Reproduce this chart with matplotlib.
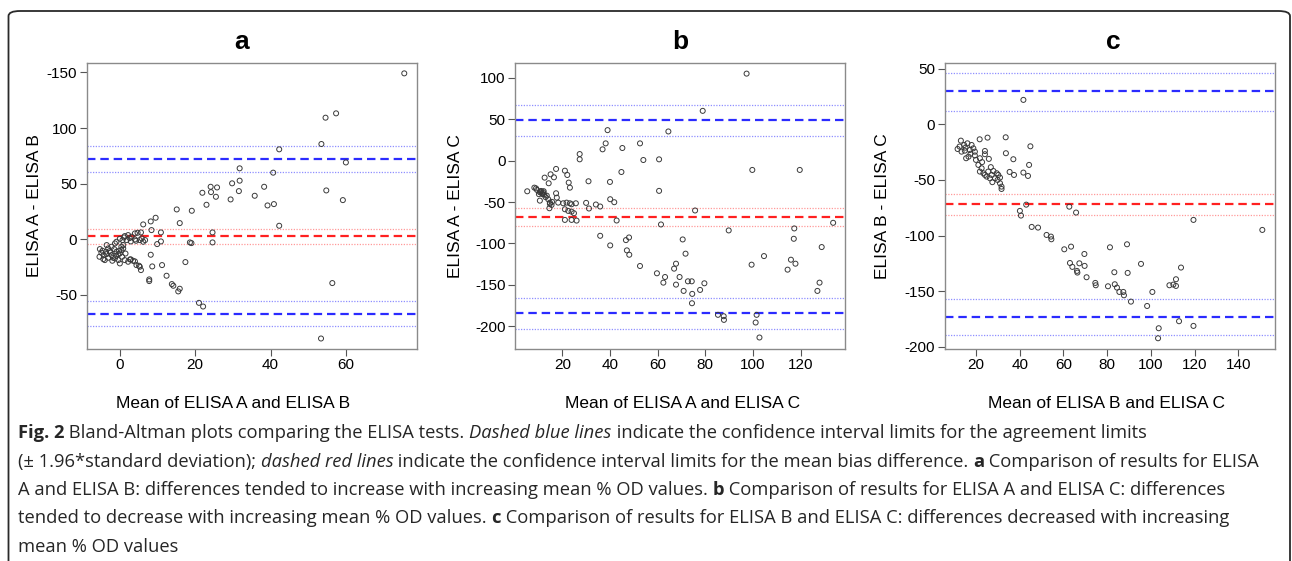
import matplotlib
matplotlib.use('Agg')
import matplotlib.pyplot as plt
from matplotlib.patches import FancyBboxPatch

# panel a: mean of A and B vs A - B
a_x = [75.5, 54.6, 57.4, 53.5, 42.3, 60.0, 31.8, 40.7, 29.8, 31.8, 24.1, 25.8, 21.9, 24.2, 25.5,
       31.6, 38.3, 35.8, 29.4, 39.2, 40.9, 54.8, 59.2, 23.0, 15.1, 19.1, 15.9, 42.3, 24.6, 24.6,
       18.6, 19.0, 17.4, 56.4, 14.2, 13.8, 15.9, 15.5, 12.4, 11.2, 8.6, 8.2, 7.8, 7.8, 21.0,
       22.1, 53.4, 10.9, 10.9, 9.9, 8.4, 8.2, 9.5, 6.2, 5.6, 4.0, 4.7, 5.3, 6.7, 4.3,
       2.9, 1.8, 1.1, 0.7, 1.3, 0.0, 2.9, 4.0, 5.1, 5.6,
       -5.3, -5.4, -4.9, -4.3, -3.7, -3.1, -2.7, -2.2, -3.1, -4.0, -4.4, -1.8, -1.3, -0.9, -0.4,
       0.0, 0.4, 0.9, 0.6, -0.4, 0.0, 1.3, 2.2, 2.7, 3.5, 4.4, 5.3, 0.9, 0.4, -0.9,
       -1.3, -2.2, -3.5, -2.5, -1.5, -3.5, -1.0, -0.2, 1.5, -4.6, -2.0,
       2.2, 3.1, 4.0, 5.8, 6.2, 2.6]
a_y = [149.2, 109.3, 113.2, 85.6, 80.8, 69.0, 63.7, 59.8, 50.2, 52.6, 47.1, 46.5, 41.7, 42.3, 38.1,
       43.2, 47.1, 39.0, 35.7, 30.3, 31.5, 43.8, 35.1, 30.9, 26.7, 25.5, 14.4, 12.0, 6.0, -3.0,
       -3.0, -3.6, -20.7, -39.6, -42.0, -40.5, -44.7, -47.1, -33.0, -23.4, -24.6, -14.1, -36.3, -37.8, -57.4,
       -60.7, -89.5, 6.0, -2.1, -4.5, 8.1, 15.9, 19.2, 13.2, 6.0, 5.1, 5.7, -0.9, -0.9, -1.5,
       -2.1, -0.9, 1.5, -0.9, 2.7, 0.3, -18.3, -20.1, -24.0, -27.9,
       -9.0, -15.9, -12.3, -14.4, -11.4, -8.4, -10.8, -14.4, -16.8, -18.9, -18.0, -16.8, -17.4, -11.4, -13.5,
       -12.9, -9.9, -8.4, -15.9, -18.9, -21.9, -18.9, -20.4, -18.3, -19.5, -23.4, -24.9, -5.4, -6.9, -2.4,
       -3.9, -6.9, -5.4, -12.0, -9.0, -13.5, -15.0, -10.5, -13.0, -10.5, -19.5,
       3.6, 2.1, -0.3, 0.6, -2.4, 0.9]
a_lines = {'agree': [72.0, -67.0], 'agree_ci': [83.8, 60.6, -55.6, -78.0],
           'bias': 3.0, 'bias_ci': [9.3, -4.2]}

# panel b: mean of A and C vs A - C
b_x = [97.3, 78.9, 64.5, 39.0, 38.2, 36.9, 45.2, 52.6, 54.0, 60.6, 27.3, 27.3, 44.8, 40.0, 31.0,
       99.7, 119.6, 60.6, 40.1, 41.8, 42.8, 30.0, 31.2, 34.1, 35.9, 75.7, 61.4, 89.8, 133.6, 117.3,
       117.1, 128.8, 35.9, 40.1, 46.7, 48.0, 47.1, 48.1, 70.5, 71.7, 104.6, 99.4, 52.6, 67.7, 66.9,
       69.2, 63.1, 59.7, 62.4, 67.7, 70.9, 72.7, 74.3, 74.5, 74.4, 77.8, 79.6, 114.5, 115.9, 117.8,
       127.9, 127.0, 85.3, 87.7, 87.8, 101.5, 101.1, 102.7,
       17.4, 15.1, 12.6, 16.5, 14.3, 21.1, 22.1, 22.7, 23.2, 5.3, 8.3, 9.4, 10.6, 11.4, 12.0,
       10.2, 11.1, 12.4, 10.6, 13.5, 14.1, 14.8, 14.6, 17.4, 17.7, 18.3, 20.4, 21.8, 23.2, 23.9,
       25.7, 21.1, 22.5, 23.9, 24.9, 21.1, 23.9, 26.0, 14.8, 15.7,
       11.8, 10.9, 12.2, 13.0, 9.0, 15.5]
b_y = [105.2, 60.2, 35.3, 36.9, 20.9, 13.7, 15.3, 20.9, 0.8, 1.6, 8.0, 1.6, -13.7, -25.7, -24.9,
       -11.2, -11.2, -36.5, -46.6, -50.2, -72.3, -51.0, -57.8, -53.0, -55.4, -60.2, -77.1, -84.3, -75.1, -81.9,
       -94.4, -104.4, -90.8, -102.4, -96.0, -92.8, -108.4, -113.7, -95.2, -112.4, -115.3, -125.7, -127.3, -124.5, -130.5,
       -140.6, -140.6, -136.1, -147.4, -149.8, -157.4, -145.8, -145.8, -161.0, -172.3, -156.2, -148.2, -131.7, -119.7, -124.5,
       -147.4, -157.4, -186.3, -188.0, -192.4, -186.3, -195.6, -213.7,
       -10.0, -16.5, -20.5, -20.1, -27.3, -12.1, -17.3, -26.5, -32.6, -37.0, -32.6, -35.4, -38.2, -39.4, -38.2,
       -40.5, -36.6, -41.0, -48.3, -42.3, -46.6, -50.7, -57.5, -39.4, -44.7, -50.7, -51.5, -50.7, -51.5, -52.7,
       -51.5, -58.7, -60.7, -61.6, -63.5, -71.6, -71.6, -72.4, -52.2, -49.8,
       -40.5, -37.5, -36.9, -44.0, -33.5, -53.5]
b_lines = {'agree': [49.0, -184.3], 'agree_ci': [67.3, 29.8, -165.8, -203.6],
           'bias': -67.6, 'bias_ci': [-56.8, -78.9]}

# panel c: mean of B and C vs B - C
c_x = [41.7, 33.6, 25.3, 21.7, 44.9, 33.7, 37.1, 35.4, 37.4, 41.7, 43.8, 44.3, 43.0, 40.1, 40.6,
       62.7, 65.8, 119.5, 151.0, 45.5, 48.4, 52.3, 54.3, 54.5, 60.4, 63.5, 81.3, 89.1, 69.6, 63.0,
       64.1, 66.2, 66.4, 67.3, 69.7, 70.6, 95.5, 83.3, 89.4, 113.8, 74.6, 74.8, 80.4, 83.5, 84.5,
       85.6, 87.4, 87.7, 90.9, 98.3, 100.7, 108.5, 110.3, 111.5, 111.5, 112.9, 119.5, 103.6, 103.3,
       13.1, 11.6, 14.6, 16.1, 18.0, 13.4, 14.9, 17.2, 18.8, 19.5, 16.6, 15.5, 24.1, 24.1, 21.8,
       25.9, 21.1, 22.6, 21.8, 23.4, 24.1, 24.9, 25.6, 26.4, 27.2, 28.7, 29.9, 30.2, 31.0, 31.7,
       31.7, 31.0, 17.5, 19.5, 20.0, 22.8, 26.8, 28.0, 29.5, 27.5, 12.5, 15.2]
c_y = [21.9, -11.7, -12.0, -13.5, -19.8, -26.0, -31.4, -42.8, -45.5, -43.4, -46.4, -36.5, -72.2, -77.8, -82.0,
       -74.0, -79.3, -85.9, -94.9, -92.2, -92.8, -99.4, -100.9, -103.3, -112.3, -109.9, -110.5, -107.8, -116.5, -124.6,
       -128.1, -131.7, -133.2, -124.9, -127.2, -137.4, -125.4, -132.9, -133.5, -128.7, -142.5, -144.6, -145.5, -143.7, -146.7,
       -150.6, -150.6, -153.6, -159.3, -163.2, -150.6, -144.6, -144.0, -139.2, -145.2, -176.9, -181.1, -183.2, -192.2,
       -14.7, -22.2, -18.6, -17.1, -18.6, -24.6, -23.7, -23.1, -21.6, -24.6, -29.1, -30.5, -24.0, -26.9, -30.5,
       -31.1, -36.5, -39.5, -42.5, -44.0, -45.5, -47.0, -42.5, -48.5, -45.5, -48.5, -50.0, -45.5, -53.0, -56.0,
       -58.1, -47.9, -26.5, -28.0, -32.0, -34.0, -38.5, -42.0, -44.0, -52.0, -20.0, -21.0]
c_lines = {'agree': [30.2, -172.7], 'agree_ci': [45.8, 11.9, -156.8, -189.4],
           'bias': -71.8, 'bias_ci': [-62.6, -81.4]}

panels = [
    ('a', a_x, a_y, a_lines, 'Mean of ELISA A and ELISA B', 'ELISA A - ELISA B',
     (-8.8, 78.8), (-98.5, 158.8), [0, 20, 40, 60], [150, 100, 50, 0, -50],
     ['-150', '100', '50', '0', '-50'], [86.7, 416.7], 35, 241.7, 233.5),
    ('b', b_x, b_y, b_lines, 'Mean of ELISA A and ELISA C', 'ELISA A - ELISA C',
     (0.3, 138.7), (-227, 118.4), [20, 40, 60, 80, 100, 120], [100, 50, 0, -50, -100, -150, -200],
     ['100', '50', '0', '-50', '-100', '-150', '-200'], [515.3, 845.3], 455, 680, 683),
    ('c', c_x, c_y, c_lines, 'Mean of ELISA B and ELISA C', 'ELISA B - ELISA C',
     (5.7, 156.8), (-201.4, 55.3), [20, 40, 60, 80, 100, 120, 140], [50, 0, -50, -100, -150, -200],
     ['50', '0', '-50', '-100', '-150', '-200'], [944.7, 1275.0], 882.7, 1113, 1106),
]

W, H = 1292, 561
fig = plt.figure(figsize=(W / 100, H / 100), dpi=100)
plt.rcParams['font.family'] = ['Liberation Sans', 'DejaVu Sans']

blue, blue_l = '#2b2bff', '#8f8fff'
red, red_l = '#ff2020', '#ff9a9a'
top_px, bot_px = 62.7, 348.5

for (name, xs, ys, lines, xlab, ylab, xlim, ylim, xt, yt, ytl, (l_px, r_px),
     ylab_px, title_px, xlab_px) in panels:
    ax = fig.add_axes([l_px / W, 1 - bot_px / H, (r_px - l_px) / W, (bot_px - top_px) / H])
    for v in lines['agree_ci']:
        ax.axhline(v, color=blue_l, lw=0.9, ls=(0, (1, 1.2)))
    for v in lines['bias_ci']:
        ax.axhline(v, color=red_l, lw=0.9, ls=(0, (1, 1.2)))
    for v in lines['agree']:
        ax.axhline(v, color=blue, lw=1.6, ls=(0, (3.8, 2.2)))
    ax.axhline(lines['bias'], color=red, lw=1.6, ls=(0, (3.8, 2.2)))
    ax.scatter(xs, ys, s=13, facecolors='none', edgecolors='#3a3a3a', linewidths=0.7, zorder=3)
    ax.set_xlim(*xlim)
    ax.set_ylim(*ylim)
    ax.set_xticks(xt)
    ax.set_yticks(yt)
    ax.set_yticklabels(ytl)
    ax.tick_params(length=5, width=0.8, color='#555555', labelsize=11, pad=2)
    for s in ax.spines.values():
        s.set_color('#8a8a8a')
        s.set_linewidth(1.0)
    fig.text(title_px / W, 1 - 42 / H, name, ha='center', va='center', fontsize=19, fontweight='bold')
    fig.text(xlab_px / W, 1 - 403 / H, xlab, ha='center', va='center', fontsize=12.5)
    fig.text(ylab_px / W, 1 - 206 / H, ylab, ha='center', va='center', rotation=90, fontsize=12.5)

# frame around the figure
frame = FancyBboxPatch((8.5 / W, -20 / H), (1290 - 8.5) / W, (H + 20 - 11) / H,
                       boxstyle='round,pad=0,rounding_size=0.009', transform=fig.transFigure,
                       fill=False, ec='#2a2a2a', lw=1.3)
fig.patches.append(frame)

# caption, drawn as runs of normal / bold / italic text
cap_font = ['Open Sans', 'DejaVu Sans']
caption = [
    [('b', 'Fig. 2'), ('n', ' Bland-Altman plots comparing the ELISA tests. '), ('i', 'Dashed blue lines'),
     ('n', ' indicate the confidence interval limits for the agreement limits')],
    [('n', '(± 1.96*standard deviation); '), ('i', 'dashed red lines'),
     ('n', ' indicate the confidence interval limits for the mean bias difference. '), ('b', 'a'),
     ('n', ' Comparison of results for ELISA')],
    [('n', 'A and ELISA B: differences tended to increase with increasing mean % OD values. '), ('b', 'b'),
     ('n', ' Comparison of results for ELISA A and ELISA C: differences')],
    [('n', 'tended to decrease with increasing mean % OD values. '), ('b', 'c'),
     ('n', ' Comparison of results for ELISA B and ELISA C: differences decreased with increasing')],
    [('n', 'mean % OD values')],
]
cap_y = [433, 462, 490, 518, 547]

renderer = fig.canvas.get_renderer()
for row, y in zip(caption, cap_y):
    x = 18.0
    for style, txt in row:
        t = fig.text(x / W, 1 - y / H, txt, ha='left', va='center', fontsize=13.2, family=cap_font,
                     color='#262626', fontweight='bold' if style == 'b' else 'normal',
                     fontstyle='italic' if style == 'i' else 'normal')
        x += t.get_window_extent(renderer).width

fig.savefig('out.png', dpi=100)
